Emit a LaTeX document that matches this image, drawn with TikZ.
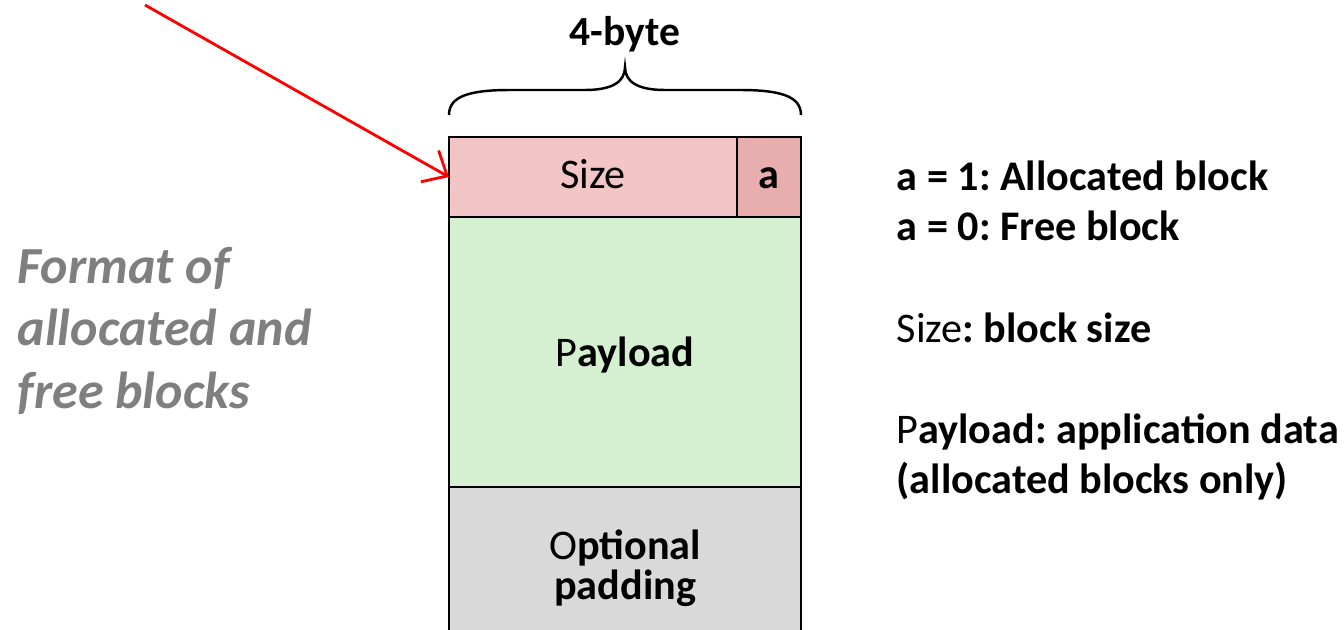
\documentclass[tikz,border=0pt]{standalone}
\usepackage{fontspec}
\setmainfont{Carlito}
\usepackage{tikz}
\usetikzlibrary{arrows.meta,positioning}
\definecolor{sizepink}{HTML}{F2C6C6}
\definecolor{flagpink}{HTML}{E8AEAE}
\definecolor{payloadgreen}{HTML}{D5F0D0}
\definecolor{padgray}{HTML}{D9D9D9}
\definecolor{notegray}{HTML}{7F7F7F}
\frenchspacing

\begin{document}
\begin{tikzpicture}[x=0.01cm,y=-0.01cm,
   cell/.style={draw,line width=0.7pt,outer sep=0pt,inner sep=0pt,align=center,
                font=\fontsize{12}{11.6}\selectfont},
   legend/.style={anchor=base west,inner sep=0pt,font=\fontsize{12}{14}\selectfont},
   note/.style={anchor=base west,inner sep=0pt,text=notegray,
                font=\bfseries\itshape\fontsize{14.8}{17}\selectfont}]
   \useasboundingbox (0,0) rectangle (1344,630);

   \node[cell,fill=sizepink,minimum width=2.88cm,minimum height=0.8cm,
         text height=0.63em,text depth=0pt,anchor=north west] (size) at (449,137) {Size};
   \node[cell,fill=flagpink,minimum width=0.64cm,minimum height=0.8cm,
         text height=0.63em,text depth=0pt,right=0pt of size] (flag) {\textbf{a}};
   \node[cell,fill=payloadgreen,minimum width=3.52cm,minimum height=2.7cm,
         text depth=0pt,anchor=north west] (payload) at (size.south west) {P\textbf{ayload}};
   \node[cell,fill=padgray,minimum width=3.52cm,minimum height=1.62cm,
         anchor=north west] (padding) at (payload.south west) {O\textbf{ptional}\\\textbf{padding}};

   \draw[line width=0.7pt] (449,115) .. controls (449,96) and (470,90) .. (510,90) -- (585,90)
        .. controls (612,90) and (625,82) .. (625,67)
        .. controls (625,82) and (638,90) .. (665,90) -- (740,90)
        .. controls (780,90) and (801,96) .. (801,115);
   \node[anchor=base,inner sep=0pt,font=\bfseries\fontsize{11.8}{13}\selectfont] (width) at (625,45) {4-byte};

   \coordinate (src) at (145,5);
   \draw[red,line width=0.8pt,-{Straight Barb[length=2mm,width=3.6mm]}] (src) -- (size.west);

   \node[note] (note1) at (17,283) {Format of};
   \node[note] (note2) at (17,345) {allocated and};
   \node[note] (note3) at (17,408) {free blocks};

   \node[legend] (leg1) at (896,190) {\textbf{a = 1: Allocated block}};
   \node[legend] (leg2) at (896,240) {\textbf{a = 0: Free block}};
   \node[legend] (leg3) at (896,342) {Size\textbf{: block size}};
   \node[legend] (leg4) at (896,443) {P\textbf{ayload: application data}};
   \node[legend] (leg5) at (896,493) {\textbf{(allocated blocks only)}};
\end{tikzpicture}
\end{document}
